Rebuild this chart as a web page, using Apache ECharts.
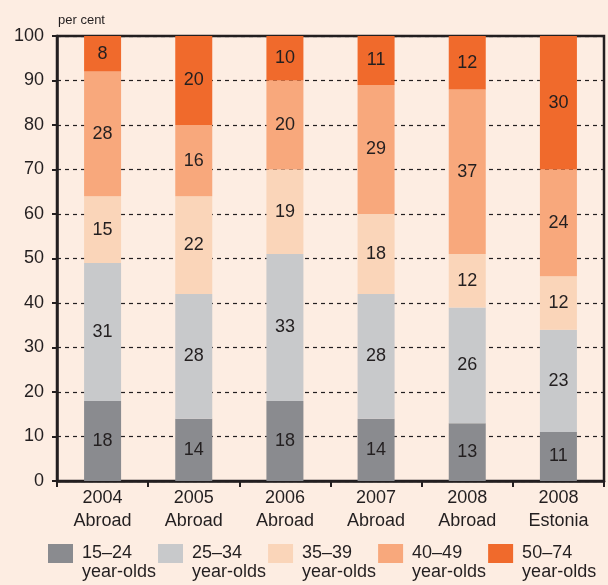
<!DOCTYPE html>
<html>
<head>
<meta charset="utf-8">
<script src="https://cdn.jsdelivr.net/npm/echarts@6/dist/echarts.min.js"></script>
<style>
html,body{margin:0;padding:0;background:#fdede2;}
#chart{width:608px;height:585px;}
</style>
</head>
<body>
<div id="chart"></div>
<script>
// categories and shares (per cent) by age group
var categories = ['2004\nAbroad', '2005\nAbroad', '2006\nAbroad', '2007\nAbroad', '2008\nAbroad', '2008\nEstonia'];
var ageGroups = ['15–24\nyear-olds', '25–34\nyear-olds', '35–39\nyear-olds', '40–49\nyear-olds', '50–74\nyear-olds'];
var age1524 = [18, 14, 18, 14, 13, 11];
var age2534 = [31, 28, 33, 28, 26, 23];
var age3539 = [15, 22, 19, 18, 12, 12];
var age4049 = [28, 16, 20, 29, 37, 24];
var age5074 = [8, 20, 10, 11, 12, 30];
var yTicks = [0, 10, 20, 30, 40, 50, 60, 70, 80, 90, 100];

var colors = ['#8a8b8f', '#c8c9cb', '#fad5b9', '#f8a87c', '#f06a2c'];
var txt = '#231f20';
var font = 'Liberation Sans, Arial, sans-serif';

var myChart = echarts.init(document.getElementById('chart'));

function bar(name, data, i) {
	return {
		name: name,
		type: 'bar',
		stack: 'total',
		data: data,
		barWidth: 37,
		itemStyle: { color: colors[i] },
		label: {
			show: true,
			position: 'inside',
			color: txt,
			fontSize: 18,
			fontFamily: font
		}
	};
}

var option = {
	backgroundColor: '#fdede2',
	animation: false,
	title: {
		text: 'per cent',
		left: 53,
		top: 9,
		textStyle: { fontSize: 13, fontWeight: 'normal', color: txt, fontFamily: font }
	},
	grid: {
		left: 57,
		right: 4,
		top: 36,
		bottom: 104,
		show: true,
		borderColor: txt,
		borderWidth: 2.5,
		backgroundColor: 'transparent'
	},
	legend: {
		left: 48,
		top: 525,
		padding: 0,
		itemWidth: 25,
		itemHeight: 19,
		itemGap: 2,
		icon: 'rect',
		// empty first line pushes the two text lines down so the box sits beside the first one
		formatter: function (name) { return '{s| }\n' + name; },
		textStyle: {
			fontSize: 18, color: txt, fontFamily: font, lineHeight: 19, padding: [0, 0, 0, 4],
			rich: { s: { fontSize: 1, lineHeight: 19 } }
		},
		data: ageGroups
	},
	xAxis: {
		type: 'category',
		data: categories,
		axisLine: { lineStyle: { color: txt, width: 2.5 } },
		axisTick: { show: true, length: 6, lineStyle: { color: txt, width: 2 } },
		axisLabel: { color: txt, fontSize: 18, fontFamily: font, lineHeight: 23, margin: 6 }
	},
	yAxis: {
		type: 'value',
		min: 0,
		max: 100,
		interval: 10,
		axisLine: { show: true, lineStyle: { color: txt, width: 2.5 } },
		axisTick: { show: true, length: 5, lineStyle: { color: txt, width: 2 } },
		axisLabel: { color: txt, fontSize: 18, fontFamily: font, margin: 13,
			formatter: function (v) { return yTicks.indexOf(v) >= 0 ? String(v) : ''; } },
		splitLine: { show: true, lineStyle: { color: txt, type: [4, 4], width: 1.2 } }
	},
	series: [
		bar(ageGroups[0], age1524, 0),
		bar(ageGroups[1], age2534, 1),
		bar(ageGroups[2], age3539, 2),
		bar(ageGroups[3], age4049, 3),
		bar(ageGroups[4], age5074, 4)
	]
};

myChart.setOption(option);
</script>
</body>
</html>
